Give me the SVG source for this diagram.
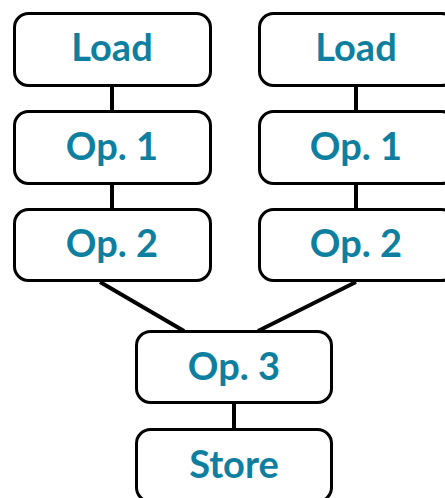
<svg xmlns="http://www.w3.org/2000/svg" width="445" height="498" viewBox="0 0 445 498">
<style>
.box{fill:#fff;stroke:#000;stroke-width:3}
.lbl{font-family:Lato,"Noto Sans",sans-serif;font-weight:700;font-size:38px;fill:#0f7fa0;text-anchor:middle}
.edge{stroke:#000;stroke-width:4;fill:none}
</style>
<rect width="445" height="498" fill="#fff"/>
<g id="connectors">
<line class="edge" x1="112" y1="86" x2="112" y2="112"/>
<line class="edge" x1="112" y1="184" x2="112" y2="210"/>
<line class="edge" x1="356" y1="86" x2="356" y2="112"/>
<line class="edge" x1="356" y1="184" x2="356" y2="210"/>
<line class="edge" x1="100" y1="282" x2="184" y2="331"/>
<line class="edge" x1="356" y1="282" x2="258" y2="331"/>
<line class="edge" x1="234" y1="404" x2="234" y2="430"/>
</g>
<g id="load1"><rect class="box" x="14.5" y="13.5" width="196" height="72" rx="14"/><text class="lbl" x="112" y="61">Load</text></g>
<g id="op1a"><rect class="box" x="14.5" y="111.5" width="196" height="72" rx="14"/><text class="lbl" x="112" y="160">Op. 1</text></g>
<g id="op2a"><rect class="box" x="14.5" y="209.5" width="196" height="71" rx="14"/><text class="lbl" x="112" y="257">Op. 2</text></g>
<g id="load2"><rect class="box" x="259.5" y="13.5" width="196" height="72" rx="14"/><text class="lbl" x="356" y="61">Load</text></g>
<g id="op1b"><rect class="box" x="259.5" y="111.5" width="196" height="72" rx="14"/><text class="lbl" x="356" y="160">Op. 1</text></g>
<g id="op2b"><rect class="box" x="259.5" y="209.5" width="196" height="71" rx="14"/><text class="lbl" x="356" y="257">Op. 2</text></g>
<g id="op3"><rect class="box" x="136.5" y="331.5" width="195" height="71" rx="14"/><text class="lbl" x="234" y="380">Op. 3</text></g>
<g id="store"><rect class="box" x="136.5" y="429.5" width="195" height="72" rx="14"/><text class="lbl" x="234" y="478">Store</text></g>
</svg>
